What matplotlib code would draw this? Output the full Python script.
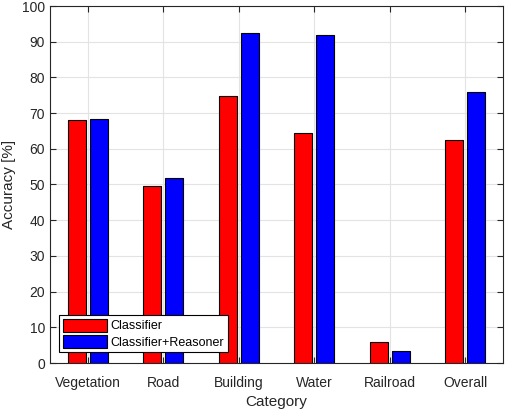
import numpy as np
from matplotlib import pyplot as plt

plt.rcParams['font.family'] = ['Liberation Sans', 'DejaVu Sans']

categories = ['Vegetation', 'Road', 'Building', 'Water', 'Railroad', 'Overall']
classifier = [68.0, 49.6, 74.8, 64.4, 5.9, 62.5]
reasoner = [68.3, 51.8, 92.4, 91.9, 3.4, 75.9]

x = np.arange(1, len(categories) + 1)
w = 0.24

fig = plt.figure(figsize=(5.07, 4.11), dpi=100)
ax = fig.add_axes([50 / 507, 48 / 411, 453 / 507, 357 / 411])

ax.bar(x - 0.145, classifier, w, color='#ff0000', edgecolor='black', linewidth=0.8,
       label='Classifier', zorder=3)
ax.bar(x + 0.145, reasoner, w, color='#0000ff', edgecolor='black', linewidth=0.8,
       label='Classifier+Reasoner', zorder=3)

ax.set_xlim(0.5, 6.5)
ax.set_ylim(0, 100)
ax.set_xticks(x)
ax.set_xticklabels(categories)
ax.set_yticks(np.arange(0, 101, 10))
ax.grid(True, color='#e3e3e3', linewidth=0.8, zorder=0)
ax.tick_params(direction='in', top=True, right=True, labelsize=10, colors='#262626',
               length=4, width=0.8)
ax.tick_params(axis='x', pad=9)
for s in ax.spines.values():
    s.set_color('#262626')
    s.set_linewidth(0.8)

ax.set_xlabel('Category', fontsize=11, color='#262626', labelpad=4)
ax.set_ylabel('Accuracy [%]', fontsize=11, color='#262626', labelpad=4)

leg = ax.legend(loc='lower left', bbox_to_anchor=(0.02, 0.03), fontsize=9,
                fancybox=False, framealpha=1, edgecolor='black', handlelength=3.5,
                handleheight=1.2, borderpad=0.3, labelspacing=0.2, handletextpad=0.3,
                borderaxespad=0)
leg.get_frame().set_linewidth(0.8)

fig.savefig('out.png', dpi=100)
